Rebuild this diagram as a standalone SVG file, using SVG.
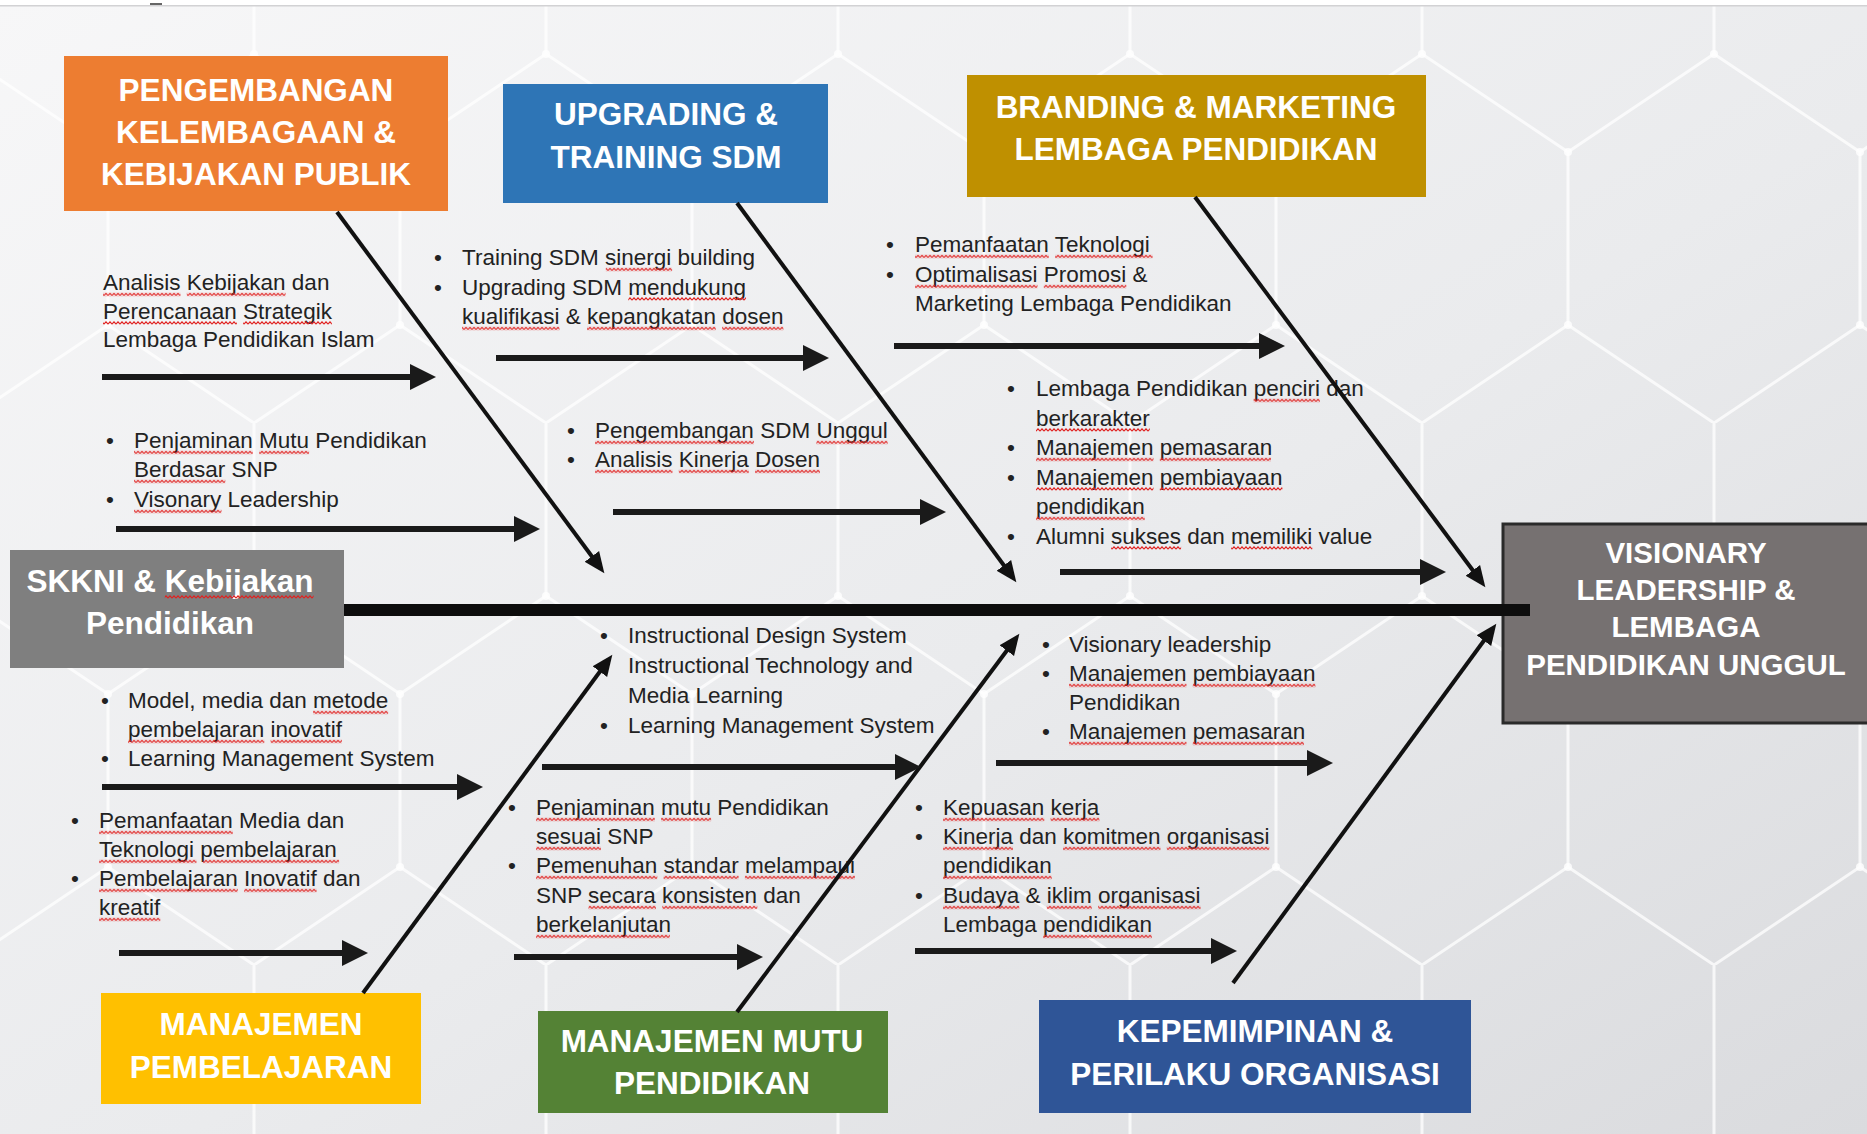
<svg xmlns="http://www.w3.org/2000/svg" width="1867" height="1134" viewBox="0 0 1867 1134">
<defs>
<linearGradient id="bg" x1="0" y1="0" x2="1" y2="1">
<stop offset="0" stop-color="#f7f7f8"/>
<stop offset="0.55" stop-color="#eaebed"/>
<stop offset="1" stop-color="#dadbde"/>
</linearGradient>
<pattern id="hex" width="292" height="542" patternUnits="userSpaceOnUse" patternTransform="translate(254,-119)">
<g fill="none" stroke="#ffffff" stroke-width="3" stroke-opacity="0.75">
<path d="M0,0 V173 L146,271 L292,173 V0 M146,271 V444 L0,542 M146,444 L292,542"/>
</g>
<g fill="#ffffff" fill-opacity="0.8">
<circle cx="0" cy="173" r="4"/><circle cx="292" cy="173" r="4"/><circle cx="146" cy="271" r="4"/><circle cx="146" cy="444" r="4"/>
</g>
</pattern>
<pattern id="sq" width="4" height="4" patternUnits="userSpaceOnUse">
<path d="M0,3.2 L2,0.8 L4,3.2" stroke="#e0201f" stroke-width="1.1" fill="none"/>
</pattern>
<marker id="ah" markerUnits="userSpaceOnUse" markerWidth="26" markerHeight="28" refX="14" refY="14" orient="auto">
<path d="M0,1 L26,14 L0,27 Z" fill="#1a1a1a"/>
</marker>
<marker id="ahd" markerUnits="userSpaceOnUse" markerWidth="22" markerHeight="20" refX="12" refY="10" orient="auto">
<path d="M0,1 L21,10 L0,19 Z" fill="#111111"/>
</marker>
<style>
.t{font-family:"Liberation Sans",Arial,sans-serif;font-size:22.5px;fill:#222222}
.h{font-family:"Liberation Sans",Arial,sans-serif;font-weight:bold;font-size:31.5px;fill:#ffffff;text-anchor:middle}
.v{font-size:29.5px}
.sq{fill:url(#sq);height:4px}
.ar{stroke:#1a1a1a;stroke-width:6;fill:none;marker-end:url(#ah)}
.dg{stroke:#111111;stroke-width:4;fill:none;marker-end:url(#ahd)}
</style>
</defs>

<rect x="0" y="0" width="1867" height="1134" fill="url(#bg)"/>
<rect x="0" y="0" width="1867" height="1134" fill="url(#hex)"/>
<rect x="0" y="0" width="1867" height="5" fill="#ffffff"/>
<rect x="0" y="5" width="1867" height="1.5" fill="#d2d2d4"/>
<rect x="150" y="3" width="12" height="2" fill="#666666"/>

<g id="node-pengembangan">
<rect x="64" y="56" width="384" height="155" fill="#ED7D31"/>
<text class="h" x="256" y="101">PENGEMBANGAN</text>
<text class="h" x="256" y="143">KELEMBAGAAN &amp;</text>
<text class="h" x="256" y="185">KEBIJAKAN PUBLIK</text>
</g>
<g id="node-upgrading">
<rect x="503" y="84" width="325" height="119" fill="#2E75B6"/>
<text class="h" x="666" y="125">UPGRADING &amp;</text>
<text class="h" x="666" y="168">TRAINING SDM</text>
</g>
<g id="node-branding">
<rect x="967" y="75" width="459" height="122" fill="#BF9000"/>
<text class="h" x="1196" y="118">BRANDING &amp; MARKETING</text>
<text class="h" x="1196" y="160">LEMBAGA PENDIDIKAN</text>
</g>
<g id="node-skkni">
<rect x="10" y="550" width="334" height="118" fill="#7F7F7F"/>
<text class="h" x="170" y="592">SKKNI &amp; Kebijakan</text>
<text class="h" x="170" y="634">Pendidikan</text>
<rect class="sq" x="164.8" width="148.8" height="4" transform="translate(0,595)"/>
</g>
<g id="node-visionary">
<rect x="1503" y="524" width="366" height="199" fill="#767171" stroke="#2a2a2a" stroke-width="3"/>
<text class="h v" x="1686" y="563">VISIONARY</text>
<text class="h v" x="1686" y="600">LEADERSHIP &amp;</text>
<text class="h v" x="1686" y="637">LEMBAGA</text>
<text class="h v" x="1686" y="675">PENDIDIKAN UNGGUL</text>
</g>
<g id="node-pembelajaran">
<rect x="101" y="993" width="320" height="111" fill="#FFC000"/>
<text class="h" x="261" y="1035">MANAJEMEN</text>
<text class="h" x="261" y="1078">PEMBELAJARAN</text>
</g>
<g id="node-mutu">
<rect x="538" y="1011" width="350" height="102" fill="#548235"/>
<text class="h" x="712" y="1052">MANAJEMEN MUTU</text>
<text class="h" x="712" y="1094">PENDIDIKAN</text>
</g>
<g id="node-kepemimpinan">
<rect x="1039" y="1000" width="432" height="113" fill="#2F5597"/>
<text class="h" x="1255" y="1042">KEPEMIMPINAN &amp;</text>
<text class="h" x="1255" y="1085">PERILAKU ORGANISASI</text>
</g>

<g id="text-analisis">
<text class="t" x="103" y="290">Analisis Kebijakan dan</text>
<text class="t" x="103" y="318.5">Perencanaan Strategik</text>
<text class="t" x="103" y="347">Lembaga Pendidikan Islam</text>
<rect class="sq" x="103" width="77.5" height="4" transform="translate(0,292.5)"/>
<rect class="sq" x="186.8" width="98.8" height="4" transform="translate(0,292.5)"/>
<rect class="sq" x="103" width="133.9" height="4" transform="translate(0,321)"/>
<rect class="sq" x="243.1" width="88.8" height="4" transform="translate(0,321)"/>
</g>
<g id="text-penjaminan">
<text class="t" x="106" y="448">•</text>
<text class="t" x="134" y="448">Penjaminan Mutu Pendidikan</text>
<text class="t" x="134" y="477">Berdasar SNP</text>
<text class="t" x="106" y="507">•</text>
<text class="t" x="134" y="507">Visonary Leadership</text>
<rect class="sq" x="134" width="118.8" height="4" transform="translate(0,450.5)"/>
<rect class="sq" x="259.1" width="50" height="4" transform="translate(0,450.5)"/>
<rect class="sq" x="134" width="91.3" height="4" transform="translate(0,479.5)"/>
<rect class="sq" x="134" width="87.5" height="4" transform="translate(0,509.5)"/>
</g>
<g id="text-training">
<text class="t" x="434" y="265">•</text>
<text class="t" x="462" y="265">Training SDM sinergi building</text>
<text class="t" x="434" y="294.5">•</text>
<text class="t" x="462" y="294.5">Upgrading SDM mendukung</text>
<text class="t" x="462" y="324">kualifikasi &amp; kepangkatan dosen</text>
<rect class="sq" x="605.8" width="66.3" height="4" transform="translate(0,267.5)"/>
<rect class="sq" x="628.3" width="117.6" height="4" transform="translate(0,297)"/>
<rect class="sq" x="462" width="97.5" height="4" transform="translate(0,326.5)"/>
<rect class="sq" x="587" width="128.8" height="4" transform="translate(0,326.5)"/>
<rect class="sq" x="722.1" width="61.3" height="4" transform="translate(0,326.5)"/>
</g>
<g id="text-sdm">
<text class="t" x="567" y="438">•</text>
<text class="t" x="595" y="438">Pengembangan SDM Unggul</text>
<text class="t" x="567" y="467">•</text>
<text class="t" x="595" y="467">Analisis Kinerja Dosen</text>
<rect class="sq" x="595" width="158.9" height="4" transform="translate(0,440.5)"/>
<rect class="sq" x="816.4" width="71.3" height="4" transform="translate(0,440.5)"/>
<rect class="sq" x="595" width="77.5" height="4" transform="translate(0,469.5)"/>
<rect class="sq" x="678.8" width="70" height="4" transform="translate(0,469.5)"/>
<rect class="sq" x="755" width="65" height="4" transform="translate(0,469.5)"/>
</g>
<g id="text-teknologi">
<text class="t" x="886" y="252">•</text>
<text class="t" x="915" y="252">Pemanfaatan Teknologi</text>
<text class="t" x="886" y="282">•</text>
<text class="t" x="915" y="282">Optimalisasi Promosi &amp;</text>
<text class="t" x="915" y="311">Marketing Lembaga Pendidikan</text>
<rect class="sq" x="915" width="133.8" height="4" transform="translate(0,254.5)"/>
<rect class="sq" x="1055.1" width="97.5" height="4" transform="translate(0,254.5)"/>
<rect class="sq" x="915" width="122.5" height="4" transform="translate(0,284.5)"/>
<rect class="sq" x="1043.8" width="82.5" height="4" transform="translate(0,284.5)"/>
</g>
<g id="text-lembaga">
<text class="t" x="1007" y="396">•</text>
<text class="t" x="1036" y="396">Lembaga Pendidikan penciri dan</text>
<text class="t" x="1036" y="425.5">berkarakter</text>
<text class="t" x="1007" y="455">•</text>
<text class="t" x="1036" y="455">Manajemen pemasaran</text>
<text class="t" x="1007" y="484.5">•</text>
<text class="t" x="1036" y="484.5">Manajemen pembiayaan</text>
<text class="t" x="1036" y="514">pendidikan</text>
<text class="t" x="1007" y="543.5">•</text>
<text class="t" x="1036" y="543.5">Alumni sukses dan memiliki value</text>
<rect class="sq" x="1253.6" width="66.3" height="4" transform="translate(0,398.5)"/>
<rect class="sq" x="1036" width="113.8" height="4" transform="translate(0,428)"/>
<rect class="sq" x="1036" width="117.5" height="4" transform="translate(0,457.5)"/>
<rect class="sq" x="1159.8" width="111.2" height="4" transform="translate(0,457.5)"/>
<rect class="sq" x="1036" width="117.5" height="4" transform="translate(0,487)"/>
<rect class="sq" x="1159.8" width="122.6" height="4" transform="translate(0,487)"/>
<rect class="sq" x="1036" width="108.8" height="4" transform="translate(0,516.5)"/>
<rect class="sq" x="1111.1" width="70" height="4" transform="translate(0,546)"/>
<rect class="sq" x="1231.1" width="81.2" height="4" transform="translate(0,546)"/>
</g>
<g id="text-model">
<text class="t" x="101" y="708">•</text>
<text class="t" x="128" y="708">Model, media dan metode</text>
<text class="t" x="128" y="737">pembelajaran inovatif</text>
<text class="t" x="101" y="766">•</text>
<text class="t" x="128" y="766">Learning Management System</text>
<rect class="sq" x="313.1" width="75" height="4" transform="translate(0,710.5)"/>
<rect class="sq" x="128" width="136.3" height="4" transform="translate(0,739.5)"/>
<rect class="sq" x="270.6" width="71.3" height="4" transform="translate(0,739.5)"/>
</g>
<g id="text-media">
<text class="t" x="71" y="828">•</text>
<text class="t" x="99" y="828">Pemanfaatan Media dan</text>
<text class="t" x="99" y="857">Teknologi pembelajaran</text>
<text class="t" x="71" y="886">•</text>
<text class="t" x="99" y="886">Pembelajaran Inovatif dan</text>
<text class="t" x="99" y="915">kreatif</text>
<rect class="sq" x="99" width="133.8" height="4" transform="translate(0,830.5)"/>
<rect class="sq" x="99" width="97.5" height="4" transform="translate(0,859.5)"/>
<rect class="sq" x="202.8" width="136.3" height="4" transform="translate(0,859.5)"/>
<rect class="sq" x="99" width="138.8" height="4" transform="translate(0,888.5)"/>
<rect class="sq" x="244.1" width="72.5" height="4" transform="translate(0,888.5)"/>
<rect class="sq" x="99" width="61.3" height="4" transform="translate(0,917.5)"/>
</g>
<g id="text-instructional">
<text class="t" x="600" y="643">•</text>
<text class="t" x="628" y="643">Instructional Design System</text>
<text class="t" x="600" y="673">•</text>
<text class="t" x="628" y="673">Instructional Technology and</text>
<text class="t" x="628" y="703">Media Learning</text>
<text class="t" x="600" y="733">•</text>
<text class="t" x="628" y="733">Learning Management System</text>
</g>
<g id="text-mutu">
<text class="t" x="508" y="815">•</text>
<text class="t" x="536" y="815">Penjaminan mutu Pendidikan</text>
<text class="t" x="536" y="844">sesuai SNP</text>
<text class="t" x="508" y="873">•</text>
<text class="t" x="536" y="873">Pemenuhan standar melampaui</text>
<text class="t" x="536" y="903">SNP secara konsisten dan</text>
<text class="t" x="536" y="932">berkelanjutan</text>
<rect class="sq" x="536" width="118.8" height="4" transform="translate(0,817.5)"/>
<rect class="sq" x="661.1" width="50" height="4" transform="translate(0,817.5)"/>
<rect class="sq" x="536" width="65" height="4" transform="translate(0,846.5)"/>
<rect class="sq" x="536" width="121.3" height="4" transform="translate(0,875.5)"/>
<rect class="sq" x="663.6" width="75" height="4" transform="translate(0,875.5)"/>
<rect class="sq" x="744.9" width="110" height="4" transform="translate(0,875.5)"/>
<rect class="sq" x="588.5" width="67.5" height="4" transform="translate(0,905.5)"/>
<rect class="sq" x="662.3" width="95" height="4" transform="translate(0,905.5)"/>
<rect class="sq" x="536" width="133.9" height="4" transform="translate(0,934.5)"/>
</g>
<g id="text-visionary">
<text class="t" x="1042" y="652">•</text>
<text class="t" x="1069" y="652">Visionary leadership</text>
<text class="t" x="1042" y="681">•</text>
<text class="t" x="1069" y="681">Manajemen pembiayaan</text>
<text class="t" x="1069" y="710">Pendidikan</text>
<text class="t" x="1042" y="739">•</text>
<text class="t" x="1069" y="739">Manajemen pemasaran</text>
<rect class="sq" x="1069" width="117.5" height="4" transform="translate(0,683.5)"/>
<rect class="sq" x="1192.8" width="122.6" height="4" transform="translate(0,683.5)"/>
<rect class="sq" x="1069" width="117.5" height="4" transform="translate(0,741.5)"/>
<rect class="sq" x="1192.8" width="111.2" height="4" transform="translate(0,741.5)"/>
</g>
<g id="text-kepuasan">
<text class="t" x="915" y="815">•</text>
<text class="t" x="943" y="815">Kepuasan kerja</text>
<text class="t" x="915" y="844">•</text>
<text class="t" x="943" y="844">Kinerja dan komitmen organisasi</text>
<text class="t" x="943" y="873">pendidikan</text>
<text class="t" x="915" y="903">•</text>
<text class="t" x="943" y="903">Budaya &amp; iklim organisasi</text>
<text class="t" x="943" y="932">Lembaga pendidikan</text>
<rect class="sq" x="943" width="101.3" height="4" transform="translate(0,817.5)"/>
<rect class="sq" x="1050.6" width="48.8" height="4" transform="translate(0,817.5)"/>
<rect class="sq" x="943" width="70" height="4" transform="translate(0,846.5)"/>
<rect class="sq" x="1063" width="97.5" height="4" transform="translate(0,846.5)"/>
<rect class="sq" x="1166.8" width="102.5" height="4" transform="translate(0,846.5)"/>
<rect class="sq" x="943" width="108.8" height="4" transform="translate(0,875.5)"/>
<rect class="sq" x="943" width="76.3" height="4" transform="translate(0,905.5)"/>
<rect class="sq" x="1046.8" width="45" height="4" transform="translate(0,905.5)"/>
<rect class="sq" x="1098.1" width="102.5" height="4" transform="translate(0,905.5)"/>
<rect class="sq" x="1043.1" width="108.8" height="4" transform="translate(0,934.5)"/>
</g>

<g id="connectors">
<rect x="344" y="604" width="1186" height="12" fill="#0d0d0d"/>
<line class="dg" x1="337" y1="212" x2="599" y2="566"/>
<line class="dg" x1="737" y1="203" x2="1011" y2="575"/>
<line class="dg" x1="1195" y1="197" x2="1480" y2="580"/>
<line class="dg" x1="363" y1="993" x2="607" y2="662"/>
<line class="dg" x1="737" y1="1012" x2="1014" y2="641"/>
<line class="dg" x1="1233" y1="983" x2="1491" y2="631"/>
<line class="ar" x1="102" y1="377" x2="424" y2="377"/>
<line class="ar" x1="496" y1="358" x2="817" y2="358"/>
<line class="ar" x1="894" y1="346" x2="1273" y2="346"/>
<line class="ar" x1="116" y1="529" x2="528" y2="529"/>
<line class="ar" x1="613" y1="512" x2="934" y2="512"/>
<line class="ar" x1="1060" y1="572" x2="1434" y2="572"/>
<line class="ar" x1="102" y1="787" x2="471" y2="787"/>
<line class="ar" x1="542" y1="767" x2="909" y2="767"/>
<line class="ar" x1="996" y1="763" x2="1321" y2="763"/>
<line class="ar" x1="119" y1="953" x2="356" y2="953"/>
<line class="ar" x1="514" y1="957" x2="751" y2="957"/>
<line class="ar" x1="915" y1="951" x2="1225" y2="951"/>
</g>
</svg>
